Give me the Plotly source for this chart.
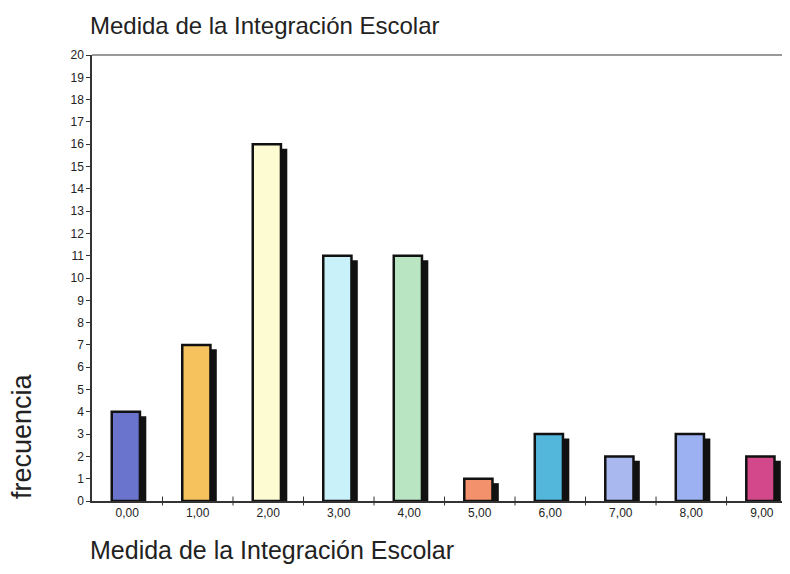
import plotly.graph_objects as go

categories = ["0,00", "1,00", "2,00", "3,00", "4,00", "5,00", "6,00", "7,00", "8,00", "9,00"]
frecuencia = [4, 7, 16, 11, 11, 1, 3, 2, 3, 2]
bar_colors = ["#6b74cc", "#f6c25e", "#fdfbd2", "#c9f1f9", "#b9e5c2",
              "#f2916c", "#52b7da", "#a9b9f0", "#9bb1f1", "#d2488a"]

title_text = "Medida de la Integración Escolar"
x_title = "Medida de la Integración Escolar"
y_title = "frecuencia"

FONT = "Liberation Sans, Arial, sans-serif"
idx = list(range(len(categories)))

# page has an 8px body margin; plot area in page coords: x 92..790, y 55..501
PW, PH = 698, 446

fig = go.Figure()
# shadow bars
fig.add_trace(go.Bar(
    x=idx, y=[v - 0.2 for v in frecuencia], base=0,
    width=0.4, offset=-0.13,
    marker=dict(color="#111111", line=dict(width=0)),
    hoverinfo="skip", showlegend=False,
))
# main bars
fig.add_trace(go.Bar(
    x=idx, y=frecuencia,
    width=0.4, offset=-0.22,
    marker=dict(color=bar_colors, line=dict(color="#111111", width=2.5)),
    showlegend=False,
))

fig.update_layout(
    width=782, height=566,
    margin=dict(l=84, r=0, t=47, b=73),
    paper_bgcolor="white", plot_bgcolor="white",
    barmode="overlay",
    font=dict(family=FONT, color="#222222"),
    xaxis=dict(
        tickmode="array", tickvals=idx, ticktext=categories,
        range=[-0.5, 9.4],
        showgrid=False, zeroline=False,
        showline=True, linecolor="#333333", linewidth=1.5,
        ticks="", tickfont=dict(size=12, color="#222222"),
    ),
    yaxis=dict(
        range=[0, 20], dtick=1, tick0=0,
        showgrid=False, zeroline=False,
        showline=True, linecolor="#333333", linewidth=1.5,
        ticks="outside", ticklen=4, tickcolor="#333333",
        tickfont=dict(size=12, color="#222222"),
    ),
    shapes=[
        dict(type="line", xref="paper", yref="paper", x0=0, x1=1, y0=1, y1=1,
             line=dict(color="#999999", width=2)),
    ] + [
        dict(type="line", xref="x", yref="paper", x0=i + 0.5, x1=i + 0.5,
             y0=-0.01, y1=0.01, line=dict(color="#333333", width=1))
        for i in idx[:-1]
    ],
    annotations=[
        dict(text=title_text, xref="paper", yref="paper", x=(88 - 92) / PW, y=1 + (55 - 25) / PH,
             xanchor="left", yanchor="middle", showarrow=False,
             font=dict(size=24, color="#222222", family=FONT)),
        dict(text=x_title, xref="paper", yref="paper", x=(88 - 92) / PW, y=-(550 - 501) / PH,
             xanchor="left", yanchor="middle", showarrow=False,
             font=dict(size=25, color="#222222", family=FONT)),
        dict(text=y_title, xref="paper", yref="paper", x=-(92 - 22) / PW, y=(501 - 436) / PH,
             xanchor="center", yanchor="middle", textangle=-90, showarrow=False,
             font=dict(size=27, color="#222222", family=FONT)),
    ],
)

fig.write_html("out.html")
